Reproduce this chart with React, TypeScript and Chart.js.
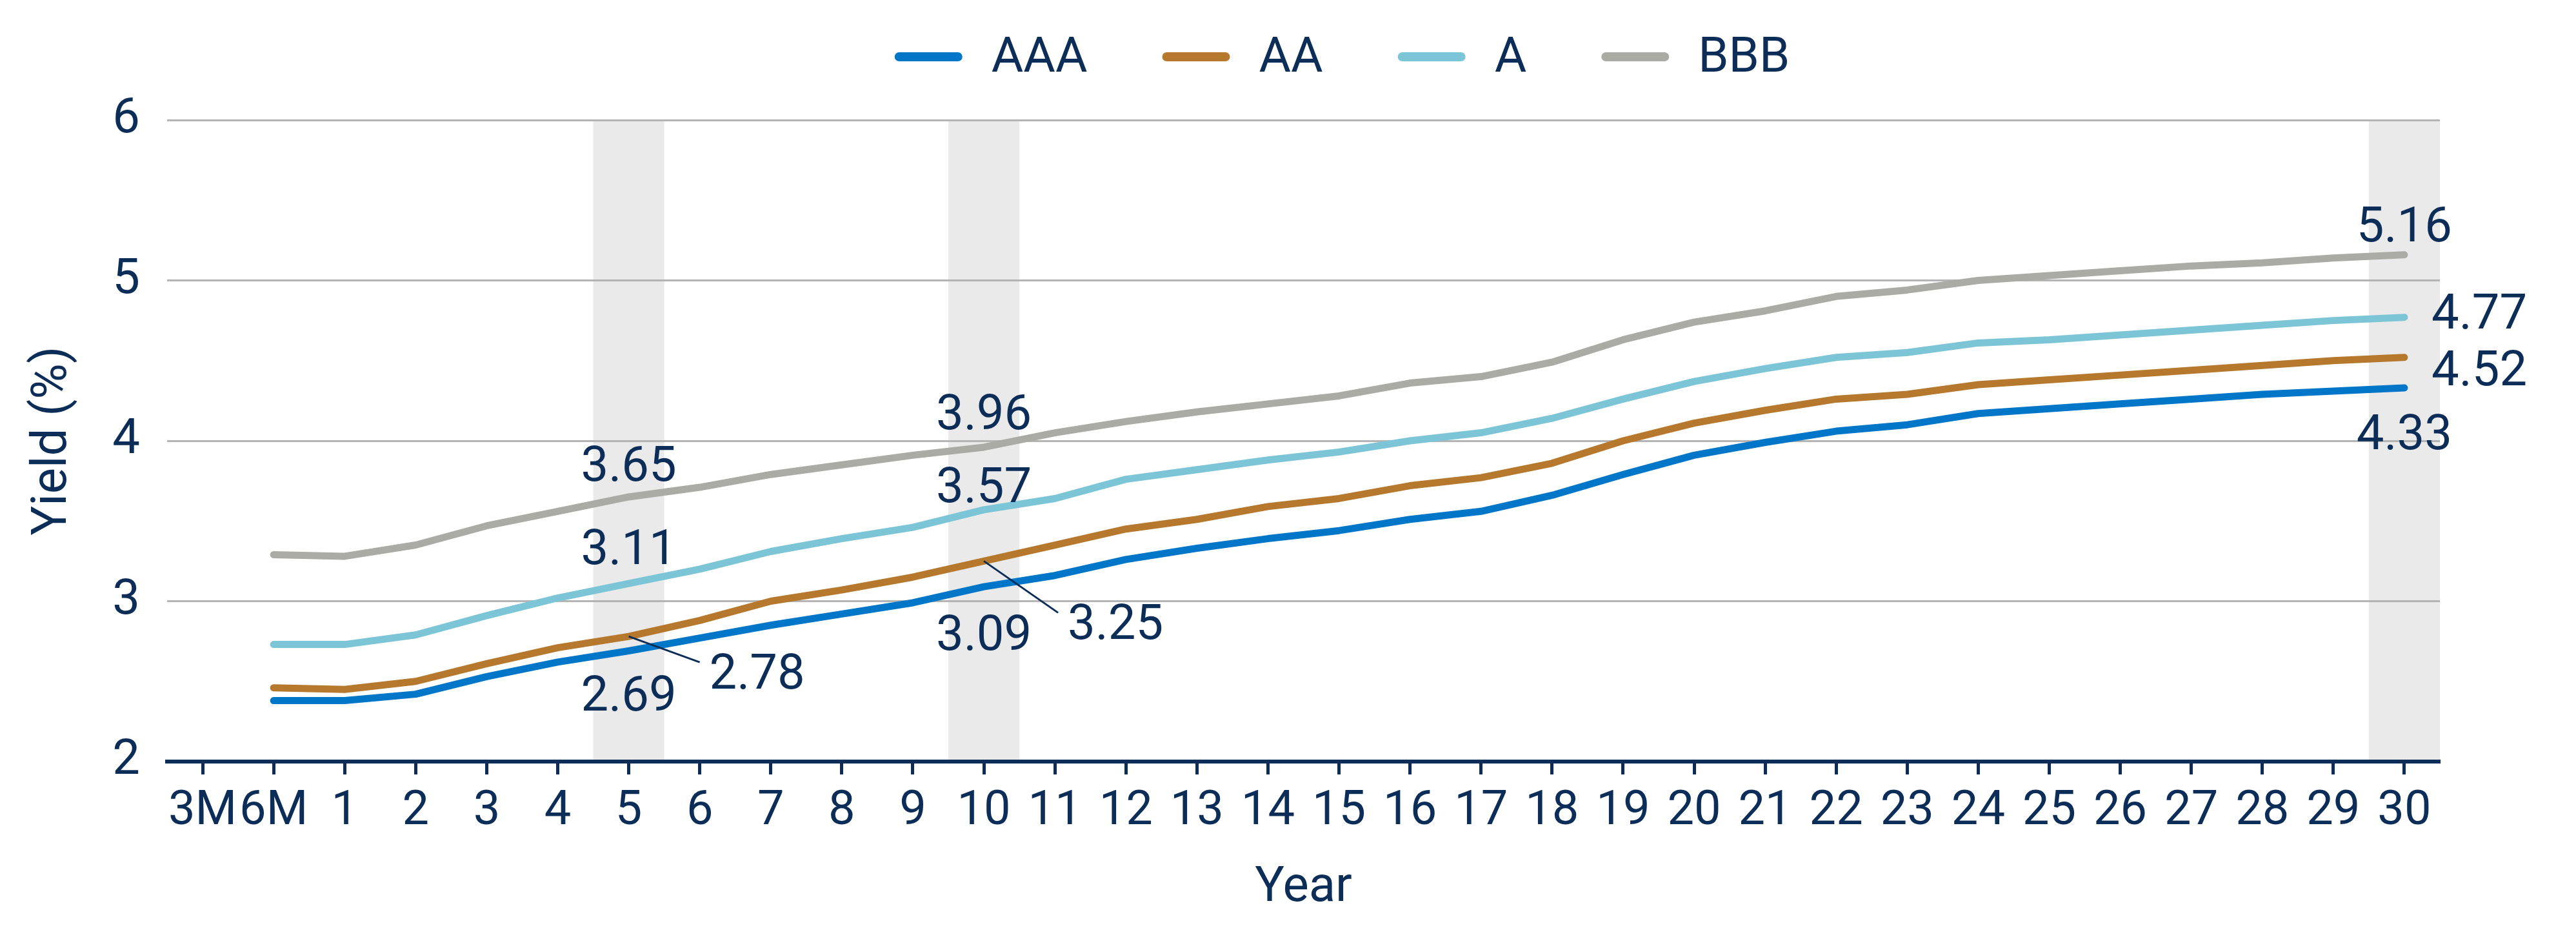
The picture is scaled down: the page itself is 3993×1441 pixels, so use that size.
import { useEffect, useRef } from "react";
import { Chart, registerables } from "chart.js";

Chart.register(...registerables);

// Maturity buckets on the x axis
const tenors = [
  "3M", "6M", "1", "2", "3", "4", "5", "6", "7", "8", "9", "10",
  "11", "12", "13", "14", "15", "16", "17", "18", "19", "20",
  "21", "22", "23", "24", "25", "26", "27", "28", "29", "30",
];

// Yields (%) by rating; no 3M point
const aaaYields = [
  null, 2.38, 2.38, 2.42, 2.53, 2.62, 2.69, 2.77, 2.85, 2.92, 2.99, 3.09,
  3.16, 3.26, 3.33, 3.39, 3.44, 3.51, 3.56, 3.66, 3.79, 3.91,
  3.99, 4.06, 4.10, 4.17, 4.20, 4.23, 4.26, 4.29, 4.31, 4.33,
];
const aaYields = [
  null, 2.46, 2.45, 2.50, 2.61, 2.71, 2.78, 2.88, 3.00, 3.07, 3.15, 3.25,
  3.35, 3.45, 3.51, 3.59, 3.64, 3.72, 3.77, 3.86, 4.00, 4.11,
  4.19, 4.26, 4.29, 4.35, 4.38, 4.41, 4.44, 4.47, 4.50, 4.52,
];
const aYields = [
  null, 2.73, 2.73, 2.79, 2.91, 3.02, 3.11, 3.20, 3.31, 3.39, 3.46, 3.57,
  3.64, 3.76, 3.82, 3.88, 3.93, 4.00, 4.05, 4.14, 4.26, 4.37,
  4.45, 4.52, 4.55, 4.61, 4.63, 4.66, 4.69, 4.72, 4.75, 4.77,
];
const bbbYields = [
  null, 3.29, 3.28, 3.35, 3.47, 3.56, 3.65, 3.71, 3.79, 3.85, 3.91, 3.96,
  4.05, 4.12, 4.18, 4.23, 4.28, 4.36, 4.40, 4.49, 4.63, 4.74,
  4.81, 4.90, 4.94, 5.00, 5.03, 5.06, 5.09, 5.11, 5.14, 5.16,
];

const ratingNames = ["AAA", "AA", "A", "BBB"];
const highlightedTenors = ["5", "10", "30"];
const yTickValues = [2, 3, 4, 5, 6];

const NAVY = "#0b2d57";
const GRID = "#b4b4b4";
const BAND = "#eaeaea";
const FONT = 'Roboto, "DejaVu Sans", sans-serif';
const WEIGHT = 400;
const FS = 76;
const CAP = 0.711 * FS;

const ratingColors = ["#0076c9", "#b5782c", "#7bc5d6", "#ababa5"];

type Placement = { kind: "above" | "below" | "right" | "leader"; gap?: number; dx?: number; dy?: number };

// How each highlighted value label sits relative to its point
const placements: Record<string, Placement> = {
  "BBB@5": { kind: "above", gap: 25 },
  "A@5": { kind: "above", gap: 30 },
  "AA@5": { kind: "leader", dx: 110, dy: 40 },
  "AAA@5": { kind: "below", gap: 38 },
  "BBB@10": { kind: "above", gap: 28 },
  "A@10": { kind: "above", gap: 12 },
  "AA@10": { kind: "leader", dx: 115, dy: 80 },
  "AAA@10": { kind: "below", gap: 44 },
  "BBB@30": { kind: "above", gap: 21 },
  "A@30": { kind: "right", dx: 42, dy: -10 },
  "AA@30": { kind: "right", dx: 42, dy: 16 },
  "AAA@30": { kind: "below", gap: 41 },
};

const bandPlugin = {
  id: "tenorBands",
  beforeDraw(chart: any) {
    const { ctx, chartArea, scales } = chart;
    const x = scales.x;
    const step = x.getPixelForValue(1) - x.getPixelForValue(0);
    ctx.save();
    ctx.fillStyle = BAND;
    for (const t of highlightedTenors) {
      const cx = x.getPixelForValue(tenors.indexOf(t));
      ctx.fillRect(cx - step / 2, chartArea.top, step, chartArea.bottom - chartArea.top);
    }
    ctx.restore();
  },
};

const valueLabelPlugin = {
  id: "valueLabels",
  afterDatasetsDraw(chart: any) {
    const { ctx, scales } = chart;
    ctx.save();
    ctx.font = `${WEIGHT} ${FS}px ${FONT}`;
    ctx.fillStyle = NAVY;
    ctx.strokeStyle = NAVY;
    ctx.lineWidth = 3;
    ctx.textBaseline = "alphabetic";
    chart.data.datasets.forEach((ds: any) => {
      for (const t of highlightedTenors) {
        const p = placements[`${ds.label}@${t}`];
        if (!p) continue;
        const idx = tenors.indexOf(t);
        const v = ds.data[idx] as number;
        const px = scales.x.getPixelForValue(idx);
        const py = scales.y.getPixelForValue(v);
        const text = v.toFixed(2);
        if (p.kind === "above") {
          ctx.textAlign = "center";
          ctx.fillText(text, px, py - (p.gap ?? 0));
        } else if (p.kind === "below") {
          ctx.textAlign = "center";
          ctx.fillText(text, px, py + (p.gap ?? 0) + CAP);
        } else if (p.kind === "right") {
          ctx.textAlign = "left";
          ctx.fillText(text, px + (p.dx ?? 0), py + (p.dy ?? 0) + CAP / 2);
        } else {
          const ex = px + (p.dx ?? 0);
          const ey = py + (p.dy ?? 0);
          ctx.beginPath();
          ctx.moveTo(px, py);
          ctx.lineTo(ex, ey);
          ctx.stroke();
          ctx.textAlign = "left";
          ctx.fillText(text, ex + 15, ey + 14 + CAP / 2);
        }
      }
    });
    ctx.restore();
  },
};

const legendPlugin = {
  id: "ratingLegend",
  afterDraw(chart: any) {
    const { ctx, chartArea } = chart;
    const swatchW = 105;
    const swatchH = 14;
    const textGap = 45;
    const itemGap = 116;
    const midY = 88;
    ctx.save();
    ctx.font = `${WEIGHT} ${FS}px ${FONT}`;
    const items = chart.data.datasets.map((ds: any) => ({
      text: ds.label as string,
      color: ds.borderColor as string,
      w: ctx.measureText(ds.label).width,
    }));
    const total =
      items.reduce((s: number, it: any) => s + swatchW + textGap + it.w, 0) + itemGap * (items.length - 1);
    let x = (chartArea.left + chartArea.right) / 2 + 60 - total / 2;
    ctx.textAlign = "left";
    ctx.textBaseline = "alphabetic";
    for (const it of items) {
      ctx.fillStyle = it.color;
      ctx.beginPath();
      ctx.roundRect(x, midY - swatchH / 2, swatchW, swatchH, swatchH / 2);
      ctx.fill();
      ctx.fillStyle = NAVY;
      ctx.fillText(it.text, x + swatchW + textGap, midY - 4 + CAP / 2);
      x += swatchW + textGap + it.w + itemGap;
    }
    ctx.restore();
  },
};

export default function App() {
  const canvasRef = useRef<HTMLCanvasElement>(null);

  useEffect(() => {
    const canvas = canvasRef.current;
    if (!canvas) return;
    const series = [aaaYields, aaYields, aYields, bbbYields];
    const textFont = { family: FONT, size: FS, weight: WEIGHT, lineHeight: 1.2 };
    const tickFont = { family: FONT, size: 74, weight: WEIGHT, lineHeight: 1.2 };
    const chart = new Chart(canvas, {
      type: "line",
      data: {
        labels: tenors,
        datasets: series.map((data, i) => ({
          label: ratingNames[i],
          data,
          borderColor: ratingColors[i],
          backgroundColor: ratingColors[i],
          borderWidth: 11,
          borderCapStyle: "round",
          borderJoinStyle: "round",
          pointRadius: 0,
          pointHoverRadius: 0,
          fill: false,
          tension: 0,
          spanGaps: false,
        })),
      },
      options: {
        responsive: false,
        animation: false,
        devicePixelRatio: 1,
        layout: { padding: { top: 186, right: 211, bottom: 0, left: 0 } },
        plugins: {
          legend: { display: false },
          tooltip: { enabled: false },
        },
        scales: {
          x: {
            type: "category",
            offset: true,
            grid: {
              display: true,
              drawOnChartArea: false,
              drawTicks: true,
              tickLength: 20,
              tickWidth: 5,
              tickColor: NAVY,
              offset: false,
            },
            border: { display: true, color: NAVY, width: 6, z: 1 },
            ticks: {
              autoSkip: false,
              maxRotation: 0,
              minRotation: 0,
              padding: 14,
              color: NAVY,
              font: tickFont,
            },
            title: {
              display: true,
              text: "Year",
              color: NAVY,
              font: textFont,
              padding: { top: 0, bottom: 18 },
            },
            afterFit: (scale: any) => {
              scale.height = 261;
            },
          },
          y: {
            min: yTickValues[0],
            max: yTickValues[yTickValues.length - 1],
            ticks: {
              stepSize: 1,
              padding: 42,
              color: NAVY,
              font: textFont,
            },
            grid: { color: GRID, lineWidth: 3, drawTicks: false },
            border: { display: false },
            title: {
              display: true,
              text: "Yield (%)",
              color: NAVY,
              font: textFont,
              padding: { top: 37, bottom: 0 },
            },
            afterFit: (scale: any) => {
              scale.width = 259;
            },
          },
        },
      },
      plugins: [bandPlugin, valueLabelPlugin, legendPlugin],
    } as any);
    return () => chart.destroy();
  }, []);

  return (
    <div style={{ position: "fixed", left: 0, top: 0, width: 3993, height: 1441, background: "#ffffff" }}>
      <canvas ref={canvasRef} width={3993} height={1441} style={{ display: "block" }} />
    </div>
  );
}
